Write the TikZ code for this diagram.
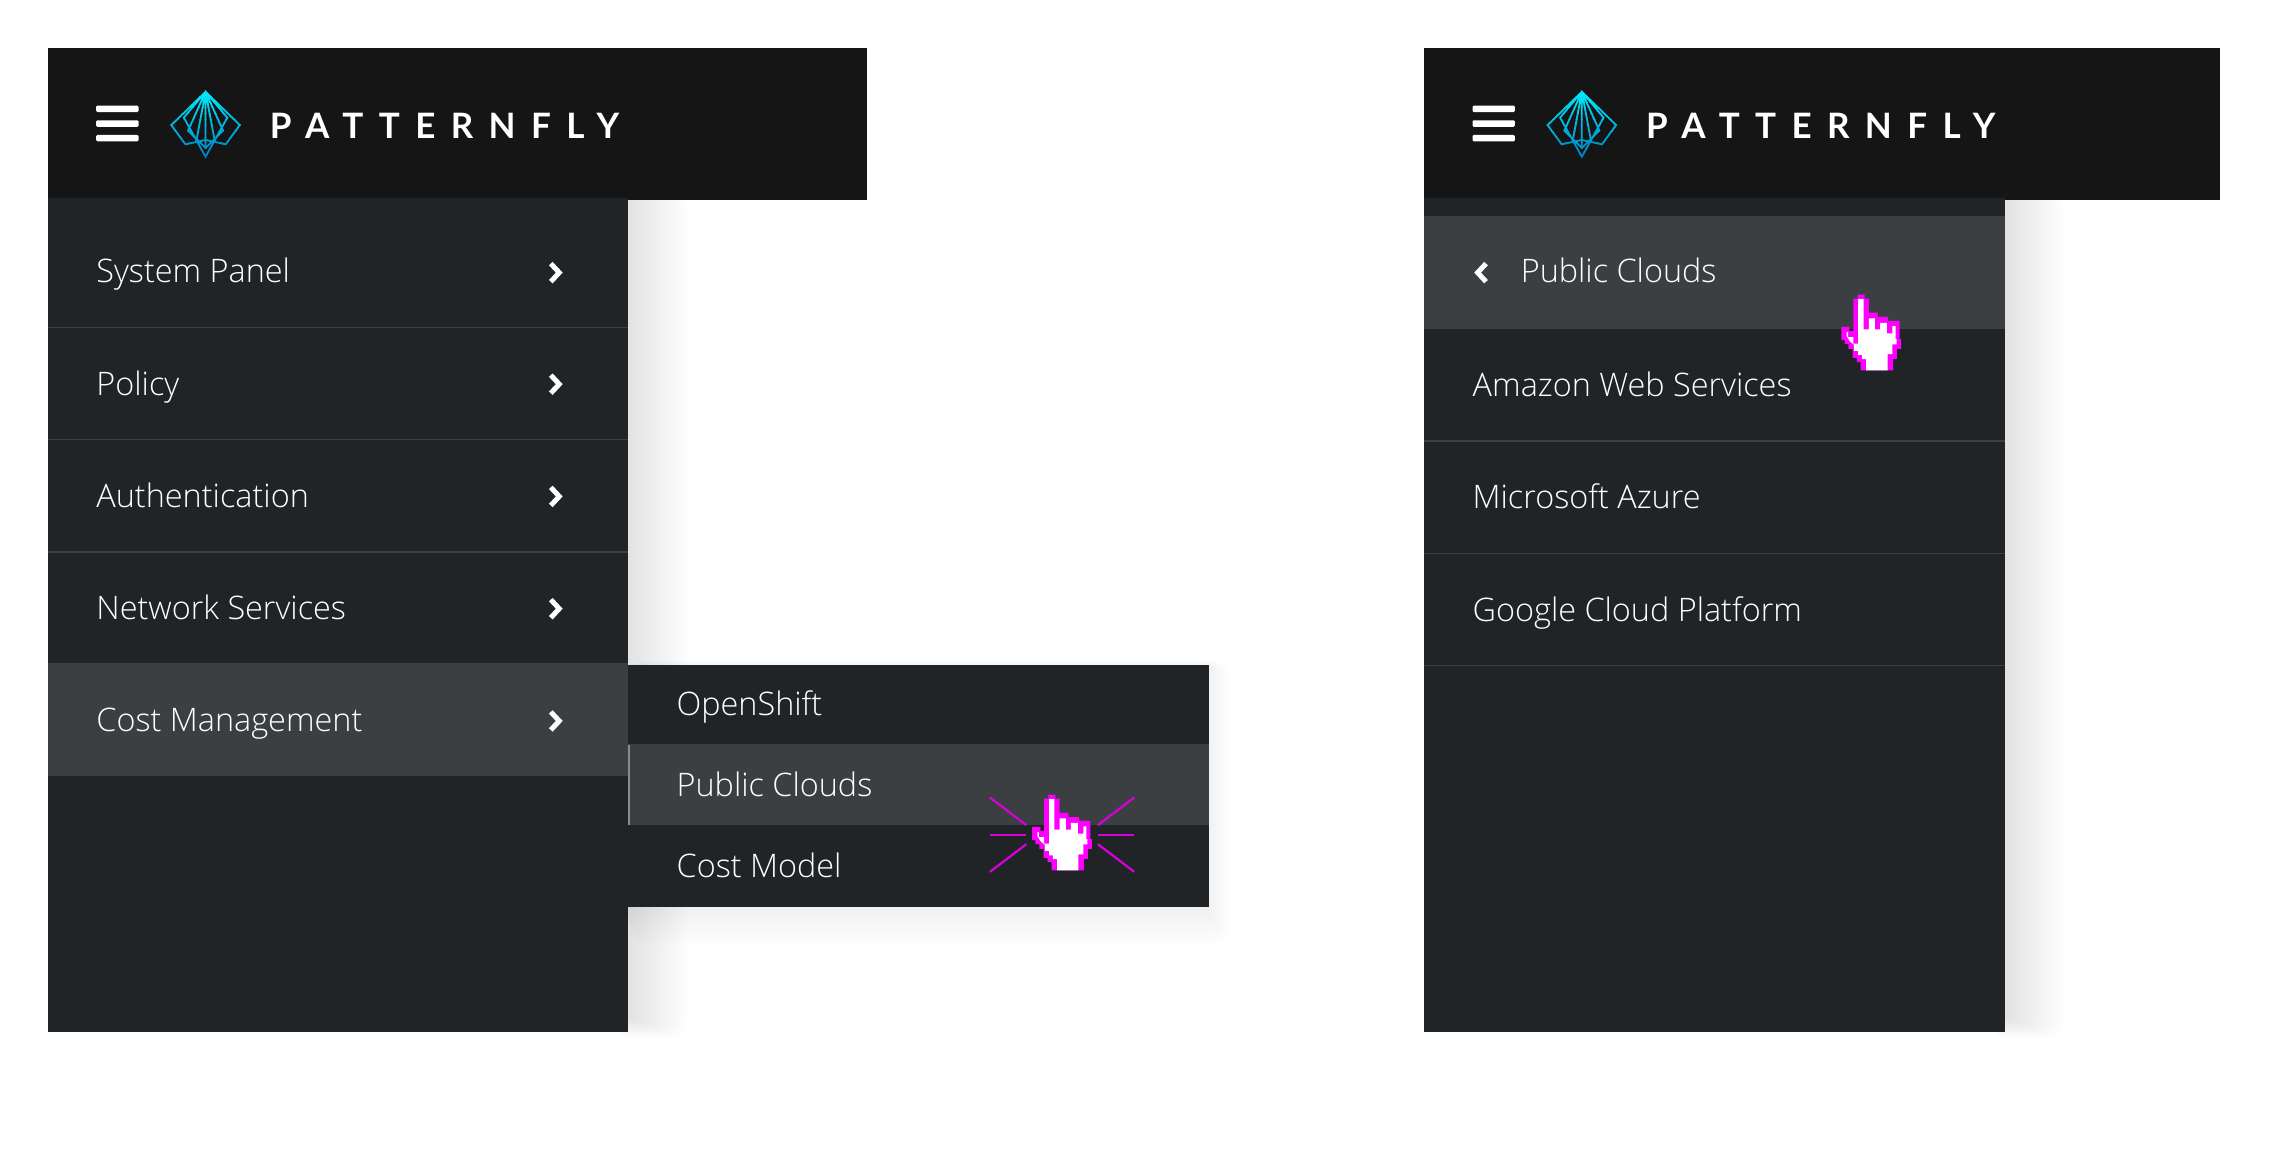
\documentclass[tikz,border=0pt]{standalone}
\usepackage{fontspec}
\setmainfont{Open Sans}[UprightFont=* Light]
\newfontfamily\wordfont{Lato}[UprightFont=* Bold,LetterSpace=44]
\definecolor{headbg}{HTML}{151515}
\definecolor{panelbg}{HTML}{212427}
\definecolor{rowhi}{HTML}{3C3F42}
\definecolor{rowline}{HTML}{3C3F42}
\definecolor{logotop}{HTML}{00E8F8}
\definecolor{logobot}{HTML}{0080C4}
\definecolor{handmag}{HTML}{FF00FF}
\definecolor{raymag}{HTML}{D800D8}
\tikzset{
  menutext/.style={text=white,anchor=base west,inner sep=0pt,font=\fontsize{32.4}{38}\selectfont},
  wordmark/.style={text=white,anchor=base west,inner sep=0pt,font=\wordfont\fontsize{35}{40}\selectfont},
  chevron/.style={draw=white,line width=5pt,miter limit=10},
  sep/.style={draw=rowline,line width=1.5pt},
  ray/.style={draw=raymag,line width=2.2pt},
  bar/.style={fill=white,rounded corners=1.2pt},
}
\newcommand{\pfShadow}[5]{% x1 y1 x2 y2 opacity
  \foreach \i in {0,...,14}{
    \fill[black,fill opacity=#5,rounded corners={\i*1.5 pt}]
      (#1,#2) rectangle ({#3+\i*2.9},{#4+\i*1.0});
  }
}
\newcommand{\pfLogo}[1]{%
  \foreach \b in {0,...,11}{
    \pgfmathtruncatemacro{\pp}{100-\b*9}
    \colorlet{logoband}{logotop!\pp!logobot}
    \begin{scope}[shift={(#1,63)}]
      \clip (-30,{\b*4-1}) rectangle (30,{\b*4+3});
      \draw[logoband,line width=1.8pt,line join=miter]
        (0,0) -- (-23.5,22.8) -- (-13.8,36) -- (0,33) -- (13.8,36) -- (23.5,22.8) -- cycle
        (0,0) -- (-14.9,17.7) -- (0,44.5) -- (14.9,17.7) -- cycle
        (0,0) -- (-12,26.6) -- (0,38.5) -- (12,26.6) -- cycle
        (0,0) -- (-6,32) (0,0) -- (0,38) (0,0) -- (6,32);
    \end{scope}
  }
}
\newcommand{\pfHand}[2]{%
  \begin{scope}[shift={(#1,#2)},xscale=.2216,yscale=.226]
    \fill[handmag] (110,40)--(132,40)--(132,52)--(145,52)--(145,95)--(172,95)--(172,108)--(205,108)--(205,120)--(240,120)--(240,175)--(245,175)--(245,205)--(232,205)--(232,235)--(220,235)--(220,270)--(120,270)--(120,245)--(108,245)--(108,232)--(95,232)--(95,205)--(82,205)--(82,190)--(70,190)--(70,178)--(60,178)--(60,138)--(85,138)--(85,150)--(97,150)--(97,52)--(110,52)--cycle;
    \fill[white] (112,54)--(129,54)--(129,146)--(145,146)--(145,112)--(164,112)--(164,146)--(180,146)--(180,126)--(201,126)--(201,158)--(218,158)--(218,136)--(228,136)--(228,175)--(231,175)--(231,191)--(218,191)--(218,221)--(203,221)--(203,270)--(137,270)--(137,236)--(124,236)--(124,224)--(112,224)--(112,211)--(99,211)--(99,192)--(86,182)--(76,165)--(76,154)--(81,154)--(81,169)--(97,169)--(97,189)--(112,189)--cycle;
  \end{scope}
}
\newcommand{\pfBars}[1]{%
  \fill[bar] (#1,72.4) rectangle ({#1+29},76.9);
  \fill[bar] (#1,82.5) rectangle ({#1+29},87);
  \fill[bar] (#1,92.5) rectangle ({#1+29},97);
}
\newcommand{\pfChevR}[1]{\draw[chevron] (377.8,{#1-6.2}) -- (383.6,#1) -- (377.8,{#1+6.2});}
\begin{document}
\begin{tikzpicture}[x=1.4579pt,y=-1.4579pt]
\useasboundingbox (0,0) rectangle (1568,791.5);
\fill[white] (0,0) rectangle (1568,791.5);

% shadows
\pfShadow{420}{130}{431}{698}{.009}
\pfShadow{1364}{130}{1375}{698}{.009}

% left panel
\fill[panelbg] (33,136) rectangle (431,708);
\fill[rowhi] (33,455) rectangle (431,532);
\foreach \yy in {224.5,301.5,378.5}{ \draw[sep] (33,\yy) -- (431,\yy); }
\node[menutext] (a1) at (66,194) {System Panel};
\node[menutext] (a2) at (66,271) {Policy};
\node[menutext] (a3) at (66,348) {Authentication};
\node[menutext] (a4) at (66,425) {Network Services};
\node[menutext] (a5) at (66,502) {Cost Management};
\foreach \yy in {187,263.5,340.5,417.5,494.5}{ \pfChevR{\yy} }

% submenu
\foreach \i in {0,...,14}{
  \fill[black,fill opacity=.005,rounded corners={\i*1.5 pt}] (431,{458-\i*.4}) rectangle ({829+\i*1.1},{624+\i*1.8});
}
\fill[panelbg] (431,456) rectangle (829,622);
\fill[rowhi] (431,510) rectangle (829,566);
\draw[draw=black!45,line width=1.5pt] (431.5,511) -- (431.5,566);
\node[menutext] (b1) at (464,491) {OpenShift};
\node[menutext] (b2) at (464,546) {Public Clouds};
\node[menutext] (b3) at (464,602) {Cost Model};

% rays and hand
\draw[ray] (679,547) -- (704,566);
\draw[ray] (679,573) -- (704,573);
\draw[ray] (679,598) -- (704,579);
\draw[ray] (778,547) -- (753,566);
\draw[ray] (753,573) -- (778,573);
\draw[ray] (753,579) -- (778,598);
\pfHand{694.7}{536}

% right panel
\fill[panelbg] (977,136) rectangle (1375,708);
\fill[rowhi] (977,148) rectangle (1375,226);
\foreach \yy in {302.5,379.5,456.5}{ \draw[sep] (977,\yy) -- (1375,\yy); }
\draw[chevron] (1019.3,180.8) -- (1013.5,187) -- (1019.3,193.2);
\node[menutext] (c1) at (1043,194) {Public Clouds};
\node[menutext] (c2) at (1010,272) {Amazon Web Services};
\node[menutext] (c3) at (1010,349) {Microsoft Azure};
\node[menutext] (c4) at (1010,426) {Google Cloud Platform};
\pfHand{1249.7}{193}

% headers
\fill[headbg] (33,33) rectangle (595,137);
\fill[headbg] (977,33) rectangle (1523,137);
\fill[panelbg] (33,136) rectangle (431,137);
\fill[panelbg] (977,136) rectangle (1375,137);
\pfBars{66}
\pfBars{1010}
\pfLogo{141}
\pfLogo{1085}
\node[wordmark] (w1) at (185,95) {PATTERNFLY};
\node[wordmark] (w2) at (1129,95) {PATTERNFLY};
\end{tikzpicture}
\end{document}
